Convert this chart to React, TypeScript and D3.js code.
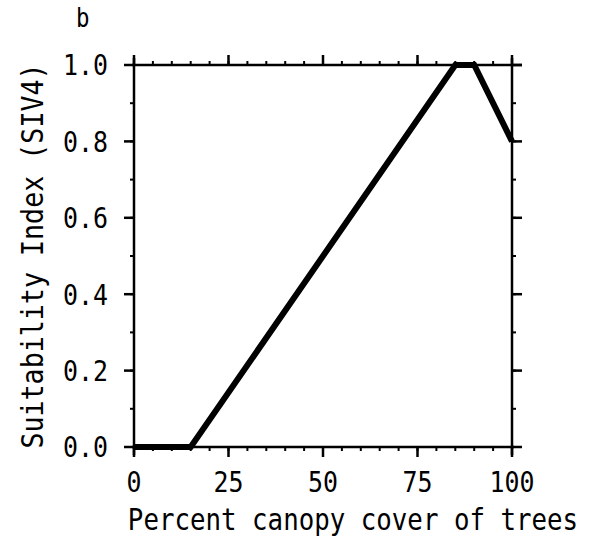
import React from "react";
import * as d3 from "d3";

const coverPct = [0, 15, 85, 90, 100];
const siValues = [0, 0, 1, 1, 0.8];
const xTicks = [0, 25, 50, 75, 100];
const yTicks = [0, 0.2, 0.4, 0.6, 0.8, 1.0];
const xMinor = d3.range(0, 101, 5);
const yMinor = d3.range(0, 1.001, 0.1);

const font = "'DejaVu Sans Mono', monospace";

function T({ x, y, anchor = "start", size = 29, rotate = 0, dy, children }: any) {
  return (
    <text
      transform={`translate(${x},${y}) rotate(${rotate}) scale(0.86,1)`}
      textAnchor={anchor}
      dy={dy}
      fontFamily={font}
      fontSize={size}
      fill="#000"
    >
      {children}
    </text>
  );
}

export default function App() {
  const W = 592, H = 550;
  const x = d3.scaleLinear().domain([0, 100]).range([134, 512]);
  const y = d3.scaleLinear().domain([0, 1]).range([447, 65]);
  const line = d3.line<number>().x((d, i) => x(coverPct[i])).y((d) => y(d));
  const ax = { stroke: "#000", strokeWidth: 2.5 };
  return (
    <svg width={W} height={H} style={{ position: "absolute", left: 0, top: 0, background: "#fff" }}>
      <rect width={W} height={H} fill="#fff" />
      <T x={76} y={27} size={26}>b</T>
      {/* frame */}
      <line x1={x(0) - 2} x2={x(100) + 10} y1={y(1)} y2={y(1)} {...ax} />
      <line x1={x(0) - 2} x2={x(100) + 2} y1={y(0)} y2={y(0)} {...ax} />
      <line x1={x(0)} x2={x(0)} y1={y(1) - 7} y2={y(0) + 8} {...ax} />
      <line x1={x(100)} x2={x(100)} y1={y(1) - 7} y2={y(0) + 8} {...ax} />
      {xMinor.map((v) => (
        <g key={"xm" + v}>
          <line x1={x(v)} x2={x(v)} y1={y(0) - 1} y2={y(0) + 4} stroke="#000" strokeWidth={2} />
          <line x1={x(v)} x2={x(v)} y1={y(1) + 1} y2={y(1) - 4} stroke="#000" strokeWidth={2} />
        </g>
      ))}
      {xTicks.map((v) => (
        <g key={"xt" + v}>
          <line x1={x(v)} x2={x(v)} y1={y(0)} y2={y(0) + 10} stroke="#000" strokeWidth={2.5} />
          <line x1={x(v)} x2={x(v)} y1={y(1)} y2={y(1) - 10} stroke="#000" strokeWidth={2.5} />
          <T x={x(v)} y={492} anchor="middle">{v}</T>
        </g>
      ))}
      {yMinor.map((v) => (
        <g key={"ym" + v.toFixed(1)}>
          <line x1={x(0) + 1} x2={x(0) - 4} y1={y(v)} y2={y(v)} stroke="#000" strokeWidth={2} />
          <line x1={x(100) - 1} x2={x(100) + 4} y1={y(v)} y2={y(v)} stroke="#000" strokeWidth={2} />
        </g>
      ))}
      {yTicks.map((v) => (
        <g key={"yt" + v}>
          <line x1={x(0)} x2={x(0) - 10} y1={y(v)} y2={y(v)} stroke="#000" strokeWidth={2.5} />
          <line x1={x(100)} x2={x(100) + 10} y1={y(v)} y2={y(v)} stroke="#000" strokeWidth={2.5} />
          <T x={108} y={y(v)} dy="0.36em" anchor="end">{v.toFixed(1)}</T>
        </g>
      ))}
      <path d={line(siValues) || ""} fill="none" stroke="#000" strokeWidth={6} strokeLinejoin="miter" />
      <T x={353} y={530} anchor="middle" size={30}>Percent canopy cover of trees</T>
      <T x={43} y={256} anchor="middle" size={31} rotate={-90}>Suitability Index (SIV4)</T>
    </svg>
  );
}
